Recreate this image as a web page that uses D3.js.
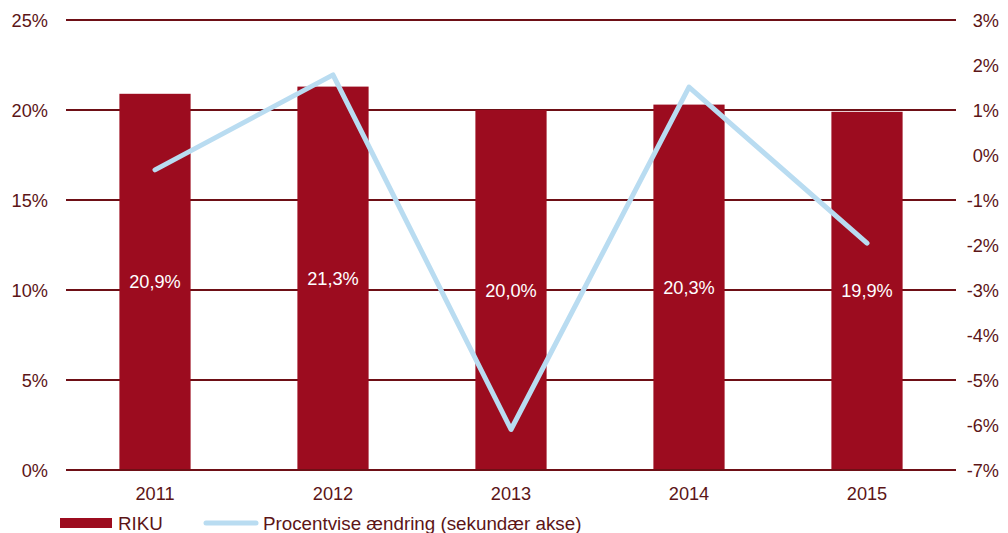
<!DOCTYPE html>
<html>
<head>
<meta charset="utf-8">
<script src="https://cdn.jsdelivr.net/npm/d3@7"></script>
<style>
  body { margin: 0; background: #fff; }
  text { font-family: "Liberation Sans", Arial, sans-serif; }
</style>
</head>
<body>
<div id="root"></div>
<script>
var years = ['2011', '2012', '2013', '2014', '2015'];
var riku = [20.9, 21.3, 20.0, 20.3, 19.9];
var change = [-0.33, 1.78, -6.1, 1.51, -1.96];
var leftTicks = [0, 5, 10, 15, 20, 25];
var rightTicks = [3, 2, 1, 0, -1, -2, -3, -4, -5, -6, -7];

var w = 1008, h = 533;
var textColor = '#5c1517', gridColor = '#6e0f16';
var fs = 18.2;

var svg = d3.select('#root')
  .append('svg')
    .attr('width', w)
    .attr('height', h);

var x = d3.scaleBand()
    .domain(years)
    .range([66, 956])
    .paddingInner(0.6)
    .paddingOuter(0.3);

var y = d3.scaleLinear().domain([0, 25]).range([470, 20]);
var y2 = d3.scaleLinear().domain([-7, 3]).range([470, 20]);

// gridlines
svg.selectAll('.grid')
    .data(leftTicks)
  .enter().append('line')
    .attr('x1', 66)
    .attr('x2', 956)
    .attr('y1', function (d) { return y(d); })
    .attr('y2', function (d) { return y(d); })
    .attr('stroke', gridColor)
    .attr('stroke-width', 2);

// left axis labels
svg.selectAll('.ltick')
    .data(leftTicks)
  .enter().append('text')
    .attr('x', 48)
    .attr('y', function (d) { return y(d) + 6.5; })
    .attr('text-anchor', 'end')
    .attr('font-size', fs)
    .attr('fill', textColor)
    .text(function (d) { return d + '%'; });

// right axis labels
svg.selectAll('.rtick')
    .data(rightTicks)
  .enter().append('text')
    .attr('x', 999)
    .attr('y', function (d) { return y2(d) + 6.5; })
    .attr('text-anchor', 'end')
    .attr('font-size', fs)
    .attr('fill', textColor)
    .text(function (d) { return d + '%'; });

// bars
svg.selectAll('.bar')
    .data(riku)
  .enter().append('rect')
    .attr('x', function (d, i) { return x(years[i]); })
    .attr('y', function (d) { return y(d); })
    .attr('width', x.bandwidth())
    .attr('height', function (d) { return y(0) - y(d); })
    .attr('fill', '#9c0c1f');

// baseline over bars
svg.append('line')
    .attr('x1', 66).attr('x2', 956)
    .attr('y1', y(0)).attr('y2', y(0))
    .attr('stroke', gridColor)
    .attr('stroke-width', 2);

// bar labels
svg.selectAll('.blabel')
    .data(riku)
  .enter().append('text')
    .attr('x', function (d, i) { return x(years[i]) + x.bandwidth() / 2; })
    .attr('y', function (d) { return y(d / 2) + 6.5; })
    .attr('text-anchor', 'middle')
    .attr('font-size', fs)
    .attr('fill', '#fff')
    .text(function (d) { return d.toFixed(1).replace('.', ',') + '%'; });

// line on secondary axis
var line = d3.line()
    .x(function (d, i) { return x(years[i]) + x.bandwidth() / 2; })
    .y(function (d) { return y2(d); });

svg.append('path')
    .datum(change)
    .attr('d', line)
    .attr('fill', 'none')
    .attr('stroke', '#b9dcf1')
    .attr('stroke-width', 5)
    .attr('stroke-linejoin', 'round')
    .attr('stroke-linecap', 'round');

// x labels
svg.selectAll('.xlabel')
    .data(years)
  .enter().append('text')
    .attr('x', function (d) { return x(d) + x.bandwidth() / 2; })
    .attr('y', 500)
    .attr('text-anchor', 'middle')
    .attr('font-size', fs)
    .attr('fill', textColor)
    .text(function (d) { return d; });

// legend
svg.append('rect')
    .attr('x', 60).attr('y', 518)
    .attr('width', 52).attr('height', 10)
    .attr('fill', '#9c0c1f');
svg.append('text')
    .attr('x', 118).attr('y', 530)
    .attr('font-size', 18.8)
    .attr('fill', textColor)
    .text('RIKU');
svg.append('line')
    .attr('x1', 206).attr('x2', 256)
    .attr('y1', 523).attr('y2', 523)
    .attr('stroke', '#b9dcf1')
    .attr('stroke-width', 5)
    .attr('stroke-linecap', 'round');
svg.append('text')
    .attr('x', 263).attr('y', 530)
    .attr('font-size', 18.8)
    .attr('fill', textColor)
    .text('Procentvise ændring (sekundær akse)');
</script>
</body>
</html>
